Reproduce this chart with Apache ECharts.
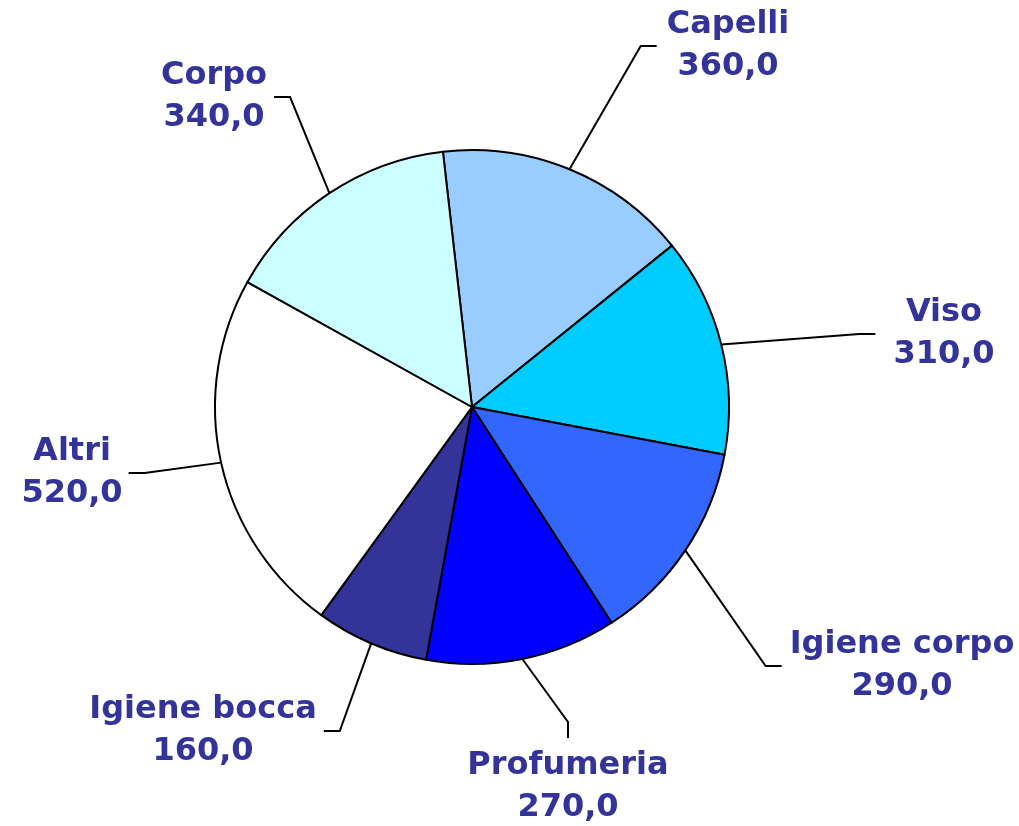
<!DOCTYPE html>
<html>
<head>
<meta charset="utf-8">
<title>Ripartizione</title>
<script src="https://cdn.jsdelivr.net/npm/echarts@6/dist/echarts.min.js"></script>
<style>
  html, body { margin: 0; padding: 0; background: #ffffff; }
  #chart { width: 1019px; height: 826px; }
</style>
</head>
<body>
<div id="chart"></div>
<script>
const categories = ['Capelli', 'Viso', 'Igiene corpo', 'Profumeria', 'Igiene bocca', 'Altri', 'Corpo'];
const values = [360, 310, 290, 270, 160, 520, 340];
const colors = ['#99CCFF', '#00CCFF', '#3366FF', '#0000FF', '#333399', '#FFFFFF', '#CCFFFF'];

// where each label block sits (centre x, centre y), which side the leader meets, gap to text
const labelSpots = [
    [728, 46, 'left', 10],
    [944, 334, 'left', 18],
    [902, 666, 'left', 8],
    [568, 787, 'top', 7],
    [203, 731, 'right', 7],
    [72, 473, 'right', 6],
    [214, 97, 'right', 7]
];
const elbow = 16;

const fmt = (v) => v.toFixed(1).replace('.', ',');

const chart = echarts.init(document.getElementById('chart'), null, { renderer: 'canvas' });

chart.setOption({
    backgroundColor: '#ffffff',
    animation: false,
    series: [{
        type: 'pie',
        center: [472, 407],
        radius: 257,
        startAngle: 96.5,
        clockwise: true,
        avoidLabelOverlap: false,
        silent: true,
        data: categories.map((name, i) => ({
            name: name,
            value: values[i],
            itemStyle: { color: colors[i] }
        })),
        itemStyle: { borderColor: '#000000', borderWidth: 2 },
        label: {
            show: true,
            position: 'outside',
            overflow: 'none',
            formatter: (p) => p.name + '\n' + fmt(p.value),
            fontFamily: 'DejaVu Sans',
            fontWeight: 'bold',
            fontSize: 32,
            lineHeight: 42,
            color: '#333399'
        },
        labelLine: {
            show: true,
            length: 20,
            length2: elbow,
            lineStyle: { color: '#000000', width: 2 }
        },
        labelLayout: (params) => {
            const [x, y, side, gap] = labelSpots[params.dataIndex];
            const w = params.labelRect.width;
            const h = params.labelRect.height;
            let end, bend;
            if (side === 'left') {
                end = [x - w / 2 - gap, y];
                bend = [end[0] - elbow, y];
            } else if (side === 'right') {
                end = [x + w / 2 + gap, y];
                bend = [end[0] + elbow, y];
            } else {
                end = [x, y - h / 2 - gap];
                bend = [x, end[1] - elbow];
            }
            const out = { x: x, y: y, align: 'center', verticalAlign: 'middle' };
            if (params.labelLinePoints) {
                out.labelLinePoints = [params.labelLinePoints[0], bend, end];
            }
            return out;
        }
    }]
});
</script>
</body>
</html>
